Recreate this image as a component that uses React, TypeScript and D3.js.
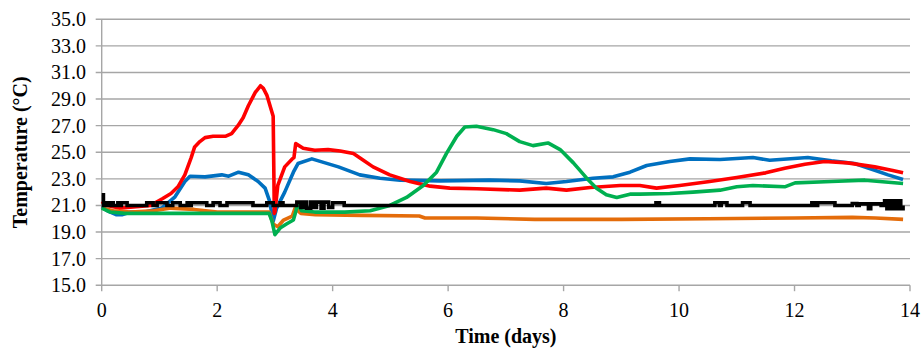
import React from 'react'
import * as d3 from 'd3'

// readings, [day, °C]
const redSeries: [number, number][] = [
  [0, 21.3], [0.1, 21.0], [0.3, 20.8], [0.6, 20.9], [0.85, 21.0], [1.05, 21.5], [1.2, 21.9],
  [1.32, 22.4], [1.44, 23.3], [1.55, 24.6], [1.61, 25.4], [1.7, 25.8], [1.79, 26.1], [1.93, 26.2],
  [2.14, 26.2], [2.25, 26.4], [2.36, 27.0], [2.45, 27.6], [2.54, 28.5], [2.66, 29.5], [2.75, 30.0],
  [2.8, 29.8], [2.86, 29.3], [2.97, 27.7], [2.99, 20.4], [3.0, 20.5], [3.05, 22.5], [3.17, 23.9],
  [3.3, 24.5], [3.33, 24.6], [3.36, 25.65], [3.49, 25.3], [3.69, 25.15], [3.92, 25.2], [4.13, 25.1],
  [4.36, 24.9], [4.5, 24.5], [4.7, 23.9], [4.99, 23.3], [5.34, 22.8], [5.69, 22.45], [6.03, 22.3],
  [6.5, 22.25], [7.24, 22.15], [7.7, 22.3], [8.05, 22.15], [8.46, 22.35], [8.98, 22.5], [9.32, 22.5],
  [9.61, 22.3], [10.01, 22.5], [10.53, 22.8], [11.0, 23.1], [11.5, 23.45], [11.83, 23.8], [12.18, 24.1],
  [12.52, 24.3], [12.92, 24.2], [13.39, 23.9], [13.68, 23.65], [13.88, 23.45],
]

const blueSeries: [number, number][] = [
  [0, 20.9], [0.1, 20.6], [0.25, 20.3], [0.35, 20.3], [0.5, 20.5], [0.75, 20.5], [1.04, 20.8],
  [1.27, 21.65], [1.44, 22.8], [1.53, 23.2], [1.79, 23.15], [2.08, 23.3], [2.2, 23.2], [2.37, 23.5],
  [2.54, 23.3], [2.71, 22.8], [2.83, 22.3], [2.91, 21.3], [2.97, 19.8], [3.03, 20.8], [3.17, 22.0],
  [3.32, 23.5], [3.4, 24.15], [3.64, 24.5], [3.87, 24.2], [4.1, 23.9], [4.47, 23.3], [4.82, 23.05],
  [5.17, 22.9], [5.86, 22.85], [6.72, 22.9], [7.24, 22.85], [7.7, 22.65], [8.05, 22.8], [8.51, 23.05],
  [8.86, 23.15], [9.15, 23.5], [9.44, 24.0], [9.84, 24.3], [10.19, 24.5], [10.71, 24.45], [11.28, 24.6],
  [11.57, 24.4], [12.23, 24.6], [12.64, 24.35], [13.04, 24.15], [13.39, 23.65], [13.62, 23.3], [13.88, 22.95],
]

const greenSeries: [number, number][] = [
  [0, 20.8], [0.15, 20.5], [0.4, 20.4], [1.5, 20.4], [2.9, 20.4], [2.95, 19.8], [3.0, 18.8],
  [3.09, 19.3], [3.2, 19.6], [3.32, 19.9], [3.36, 20.5], [3.39, 21.15], [3.46, 20.6], [3.69, 20.5],
  [4.21, 20.5], [4.65, 20.6], [4.99, 21.0], [5.28, 21.6], [5.57, 22.5], [5.8, 23.5], [5.97, 24.9],
  [6.15, 26.2], [6.29, 26.9], [6.49, 26.95], [6.78, 26.7], [7.01, 26.4], [7.24, 25.8], [7.47, 25.5],
  [7.73, 25.7], [7.94, 25.2], [8.17, 24.2], [8.4, 23.05], [8.57, 22.3], [8.74, 21.8], [8.92, 21.6],
  [9.15, 21.85], [9.32, 21.85], [9.84, 21.9], [10.24, 22.0], [10.71, 22.15], [11.0, 22.4], [11.28, 22.5],
  [11.83, 22.4], [12.01, 22.7], [12.64, 22.8], [13.22, 22.9], [13.88, 22.65],
]

const orangeSeries: [number, number][] = [
  [0, 20.8], [0.2, 20.6], [0.5, 20.5], [0.9, 20.6], [1.2, 20.8], [1.6, 20.7], [2.0, 20.5],
  [2.9, 20.5], [2.97, 19.6], [3.05, 19.4], [3.15, 19.9], [3.3, 20.2], [3.35, 20.8], [3.45, 20.4],
  [3.7, 20.3], [4.5, 20.25], [5.5, 20.2], [5.6, 20.05], [6.5, 20.05], [7.5, 19.95], [9.0, 19.95],
  [10.5, 20.0], [12.0, 20.05], [13.0, 20.1], [13.4, 20.05], [13.88, 19.95],
]

// set point, stepped
const blackSeries: [number, number][] = [
  [0, 21.8], [0.03, 21.0], [0.07, 21.2], [0.1, 21.0], [0.14, 21.2], [0.2, 21.0], [0.28, 21.2],
  [0.31, 21.0], [0.34, 21.2], [0.44, 21.0], [0.78, 21.2], [0.89, 21.0], [0.96, 21.2], [1.13, 21.0],
  [1.23, 21.2], [1.36, 21.0], [1.48, 21.2], [1.52, 21.0], [1.55, 21.2], [1.82, 21.0], [1.93, 21.2],
  [2.05, 21.0], [2.17, 21.2], [2.62, 21.0], [2.86, 21.2], [2.97, 21.0], [3.09, 21.2], [3.14, 21.0],
  [3.38, 21.25], [3.45, 20.85], [3.5, 21.25], [3.55, 20.8], [3.62, 21.25], [3.68, 20.85], [3.72, 21.25],
  [3.8, 20.8], [3.85, 21.25], [3.93, 20.85], [4.0, 21.2], [4.2, 21.0], [9.6, 21.2], [9.66, 21.0],
  [10.62, 21.2], [10.7, 21.0], [10.73, 21.2], [10.83, 21.0], [11.1, 21.2], [11.23, 21.0],
  [12.3, 21.2], [12.35, 21.0], [12.4, 21.2], [12.7, 21.0], [13.0, 21.15], [13.08, 21.0], [13.12, 21.12],
  [13.28, 20.75], [13.32, 21.12], [13.5, 21.0], [13.56, 21.35], [13.6, 20.75], [13.64, 21.35], [13.68, 20.75],
  [13.72, 21.35], [13.76, 20.75], [13.8, 21.35], [13.84, 20.75], [13.88, 21.0],
]

const yTicks = [15, 17, 19, 21, 23, 25, 27, 29, 31, 33, 35]
const xTicks = [0, 2, 4, 6, 8, 10, 12, 14]

const width = 922
const height = 351
const left = 101.7
const right = 910
const top = 19.3
const bottom = 285.2

const font = 'Liberation Serif, serif'
const gridColor = '#a6a6a6'

export default function App() {
  const x = d3.scaleLinear().domain([0, 14]).range([left, right])
  const y = d3.scaleLinear().domain([15, 35]).range([bottom, top])

  const line = d3.line<[number, number]>().x(d => x(d[0])).y(d => y(d[1]))
  const stepLine = d3.line<[number, number]>().x(d => x(d[0])).y(d => y(d[1])).curve(d3.curveStepAfter)

  const series = [
    { data: blueSeries, color: '#0070c0' },
    { data: redSeries, color: '#ff0000' },
    { data: orangeSeries, color: '#e46c0a' },
    { data: greenSeries, color: '#00b050' },
  ]

  return (
    <svg width={width} height={height} style={{ position: 'absolute', left: 0, top: 0, background: '#fff' }}>
      {/* grid + y ticks */}
      {yTicks.map(t => (
        <g key={t}>
          <line x1={left - 6} x2={right} y1={y(t)} y2={y(t)} stroke={gridColor} strokeWidth={1.4} />
          <text x={86} y={y(t)} dy="0.35em" textAnchor="end" fontFamily={font} fontSize={20} fill="#000">
            {t.toFixed(1)}
          </text>
        </g>
      ))}
      <line x1={left} x2={left} y1={top} y2={bottom} stroke={gridColor} strokeWidth={1.4} />
      {xTicks.map(t => (
        <g key={t}>
          <line x1={x(t)} x2={x(t)} y1={bottom} y2={bottom + 6} stroke={gridColor} strokeWidth={1.4} />
          <text x={x(t)} y={317} textAnchor="middle" fontFamily={font} fontSize={20} fill="#000">
            {t}
          </text>
        </g>
      ))}

      {series.map(s => (
        <path key={s.color} d={line(s.data) ?? ''} fill="none" stroke={s.color} strokeWidth={3.6} strokeLinejoin="round" />
      ))}
      <path d={stepLine(blackSeries) ?? ''} fill="none" stroke="#000" strokeWidth={3.6} />

      <text x={(left + right) / 2} y={343} textAnchor="middle" fontFamily={font} fontSize={20} fontWeight="bold">
        Time (days)
      </text>
      <text
        transform={`translate(27,${(top + bottom) / 2}) rotate(-90)`}
        textAnchor="middle"
        fontFamily={font}
        fontSize={20}
        fontWeight="bold"
      >
        Temperature (°C)
      </text>
    </svg>
  )
}
